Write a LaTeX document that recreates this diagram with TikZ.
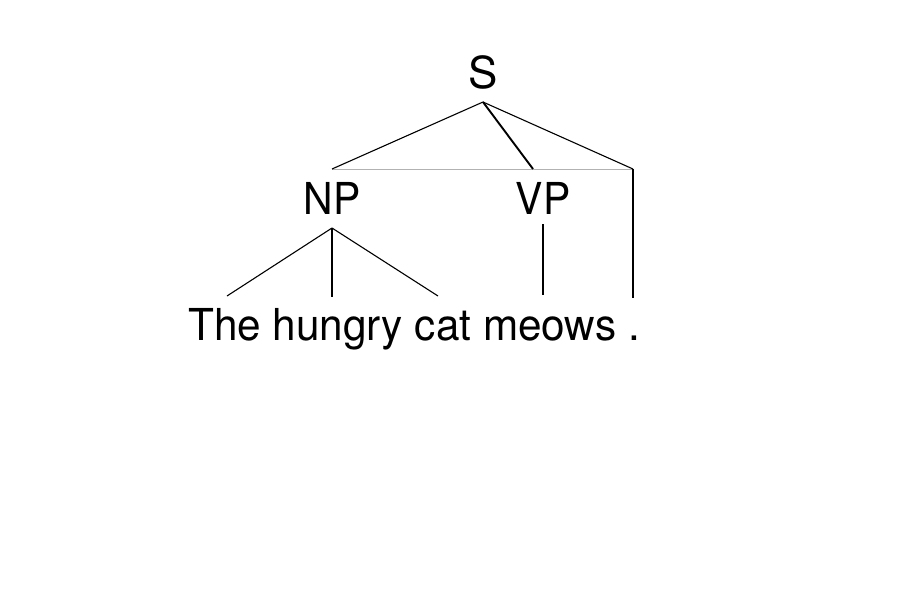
\documentclass[tikz,border=0pt]{standalone}
\usepackage{fontspec}
\setmainfont{TeX Gyre Heros}
\begin{document}
\begin{tikzpicture}[x=1pt,y=-1pt,
  lbl/.style={inner sep=0pt,anchor=base,font=\fontsize{44}{44}\selectfont},
  squeeze/.style={xscale=0.961,transform shape},
  thin/.style={line width=1.1pt,black},
  thick/.style={line width=1.9pt,black},
  guide/.style={line width=1pt,black!30}]
\useasboundingbox (0,0) rectangle (900,598);
\node[lbl] (S) at (483,88) {S};
\node[lbl] (NP) at (332,214) {\scalebox{0.93}[1]{NP}};
\node[lbl] (VP) at (543,214) {\scalebox{0.93}[1]{VP}};
\node[lbl,anchor=base west] (sent) at (188,340) {\scalebox{0.961}[1]{The hungry cat meows .}};
\coordinate (Sb) at (483,102);
\coordinate (l1) at (332,169);
\coordinate (l2) at (533,169);
\coordinate (l3) at (633,169);
\coordinate (NPb) at (332,228);
\coordinate (w1) at (227,296);
\coordinate (w2) at (332,297);
\coordinate (w3) at (438,296);
\coordinate (VPb) at (543,224);
\coordinate (w4) at (543,295);
\coordinate (w5) at (633,298);
\draw[guide] (l1) -- (l3);
\draw[thin] (Sb) -- (l1);
\draw[thick] (Sb) -- (l2);
\draw[thin] (Sb) -- (l3);
\draw[thick] (l3) -- (w5);
\draw[thin] (NPb) -- (w1);
\draw[thick] (NPb) -- (w2);
\draw[thin] (NPb) -- (w3);
\draw[thick] (VPb) -- (w4);
\end{tikzpicture}
\end{document}
